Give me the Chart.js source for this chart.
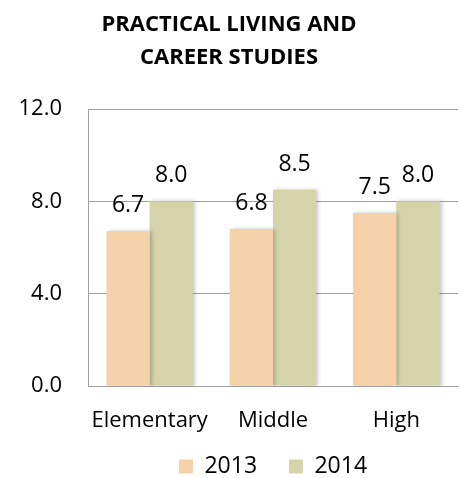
<!DOCTYPE html>
<html>
<head>
<meta charset="utf-8">
<script src="https://cdn.jsdelivr.net/npm/chart.js@4"></script>
<style>
  html, body { margin: 0; padding: 0; background: #fff; }
  #wrap { width: 460px; height: 478px; }
</style>
</head>
<body>
<div id="wrap"><canvas id="studiesChart"></canvas></div>
<script>
const categories = ['Elementary', 'Middle', 'High'];
const values2013 = [6.7, 6.8, 7.5];
const values2014 = [8.0, 8.5, 8.0];
const seriesNames = ['2013', '2014'];
const titleLines = ['PRACTICAL LIVING AND', 'CAREER STUDIES'];

const fontFamily = '"Open Sans", Lato, sans-serif';

// Подписи значений над столбцами
const valueLabels = {
  id: 'valueLabels',
  afterDatasetsDraw(chart) {
    const ctx = chart.ctx;
    ctx.save();
    ctx.font = '23px ' + fontFamily;
    ctx.fillStyle = '#000';
    ctx.textAlign = 'center';
    ctx.textBaseline = 'bottom';
    chart.data.datasets.forEach((ds, i) => {
      chart.getDatasetMeta(i).data.forEach((bar, j) => {
        ctx.fillText(ds.data[j].toFixed(1), bar.x, bar.y - 14);
      });
    });
    ctx.restore();
  },
};

// Лёгкая тень у столбцов
const barShadow = {
  id: 'barShadow',
  beforeDatasetsDraw(chart) {
    chart.ctx.save();
    chart.ctx.shadowColor = 'rgba(0,0,0,0.22)';
    chart.ctx.shadowBlur = 4;
    chart.ctx.shadowOffsetX = 2;
  },
  afterDatasetsDraw(chart) {
    chart.ctx.restore();
  },
};

// Прижимаем легенду к нижнему краю
const compactLegend = {
  id: 'compactLegend',
  afterInit(chart) {
    const legend = chart.legend;
    if (!legend) return;
    const origFit = legend.fit;
    legend.fit = function () {
      origFit.call(this);
      this.height = 25;
    };
  },
};

const ctx = document.getElementById('studiesChart').getContext('2d');
new Chart(ctx, {
  type: 'bar',
  data: {
    labels: categories,
    datasets: [
      {
        label: seriesNames[0],
        data: values2013,
        backgroundColor: '#F5D1AA',
        categoryPercentage: 0.7,
        barPercentage: 1.0,
      },
      {
        label: seriesNames[1],
        data: values2014,
        backgroundColor: '#D4D3AA',
        categoryPercentage: 0.7,
        barPercentage: 1.0,
      },
    ],
  },
  options: {
    responsive: true,
    maintainAspectRatio: false,
    animation: false,
    layout: { padding: { left: 0, right: 2, top: 8, bottom: 0 } },
    plugins: {
      title: {
        display: true,
        text: titleLines,
        color: '#000',
        font: { family: fontFamily, size: 22, weight: 'bold', lineHeight: 1.5 },
        padding: { top: 0, bottom: 35 },
      },
      legend: {
        position: 'bottom',
        fullSize: false,
        labels: {
          color: '#000',
          font: { family: fontFamily, size: 23 },
          boxWidth: 14,
          boxHeight: 14,
          padding: 2,
          // Шире промежуток между элементами легенды
          generateLabels: (chart) => {
            const items = Chart.defaults.plugins.legend.labels.generateLabels(chart);
            items[0].text += '     ';
            return items;
          },
        },
      },
      tooltip: { enabled: false },
    },
    scales: {
      x: {
        grid: { display: false, drawTicks: false },
        border: { color: '#a0a0a0' },
        ticks: {
          color: '#000',
          font: { family: fontFamily, size: 22 },
          padding: 22,
        },
        afterFit: (scale) => {
          scale.height = 67;
        },
      },
      y: {
        min: 0,
        max: 12,
        grid: { color: '#a0a0a0', drawTicks: false },
        border: { color: '#a0a0a0' },
        ticks: {
          stepSize: 4,
          color: '#000',
          font: { family: fontFamily, size: 22 },
          padding: 26,
          callback: (v) => v.toFixed(1),
        },
        afterFit: (scale) => {
          scale.width = 88;
        },
      },
    },
  },
  plugins: [barShadow, valueLabels, compactLegend],
});
</script>
</body>
</html>
